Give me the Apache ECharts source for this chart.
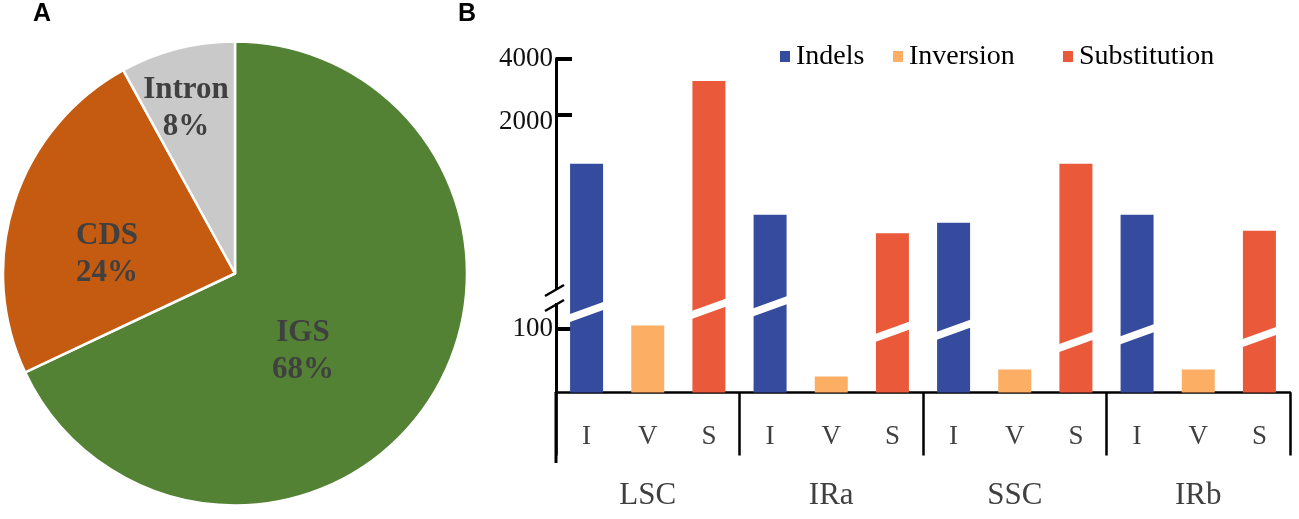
<!DOCTYPE html>
<html><head><meta charset="utf-8">
<script src="https://cdn.jsdelivr.net/npm/echarts@6/dist/echarts.min.js"></script>
<style>html,body{margin:0;padding:0;background:#fff}#c{width:1299px;height:519px}</style>
</head><body><div id="c"></div>
<script>
// ---- data ----
const pieNames = ['IGS', 'CDS', 'Intron'];
const pieValues = [68, 24, 8];
const groups = ['LSC', 'IRa', 'SSC', 'IRb'];
const types = ['I', 'V', 'S'];
const seriesNames = ['Indels', 'Inversion', 'Substitution'];
const indels = [1100, 590, 535, 590];
const inversion = [105, 25, 36, 36];
const substitution = [3040, 470, 1100, 485];
const upperTickValues = [2000, 4000];
const lowerTickValues = [100];

// ---- decoration (style): level, in lower-axis units, of the white break stripe on tall bars ----
const breakIndels = [126, 135, 98, 91];
const breakSubst = [131, 95, 79, 87];
const pieLabelPos = [[303, 351], [107, 254], [186, 108]];
const legendX = [780, 893, 1063];

const pieColors = ['#548235', '#C55A11', '#C9C9C9'];
const barColors = {Indels: '#354C9E', Inversion: '#FBAE64', Substitution: '#EA5A3A'};

const cats = [];
groups.forEach(g => types.forEach(t => cats.push(g + '|' + t)));
function colData(values, typeIdx) {
  return cats.map((c, i) => (i % 3 === typeIdx ? values[Math.floor(i / 3)] : '-'));
}
const stripes = [];
groups.forEach((g, gi) => {
  stripes.push([gi * 3 + 0, breakIndels[gi]]);
  stripes.push([gi * 3 + 2, breakSubst[gi]]);
});

const serif = 'Liberation Serif';
const L = 556, R = 9;
const chart = echarts.init(document.getElementById('c'));
const barCommon = {type: 'bar', barWidth: 33, barGap: '-100%', clip: true};
const plain = v => String(Math.round(v));

const legendGraphics = [];
seriesNames.forEach((n, i) => {
  legendGraphics.push({type: 'rect', z: 100, shape: {x: legendX[i], y: 51, width: 10, height: 11}, style: {fill: barColors[n]}});
  legendGraphics.push({type: 'text', z: 100, x: legendX[i] + 16, y: 57,
    style: {text: n, font: '28px "Liberation Serif"', fill: '#000', verticalAlign: 'middle', align: 'left'}});
});

chart.setOption({
  animation: false,
  backgroundColor: '#fff',
  textStyle: {fontFamily: serif},
  legend: {show: false, data: seriesNames},
  grid: [
    {left: L, right: R, top: 58.5, height: 244.5},
    {left: L, right: R, top: 303, height: 89.5},
    {left: L, right: R, top: 303, height: 89.5}
  ],
  xAxis: [
    {gridIndex: 0, type: 'category', data: cats, show: false},
    {gridIndex: 1, type: 'category', data: cats,
     axisLine: {show: true, lineStyle: {color: '#000', width: 2.5}},
     axisTick: {show: false},
     axisLabel: {formatter: v => v.split('|')[1], fontSize: 27, fontFamily: serif, color: '#404040', margin: 31}},
    {gridIndex: 2, type: 'category', data: groups,
     axisLine: {show: false},
     axisTick: {show: true, length: 63, lineStyle: {color: '#000', width: 2.5}},
     axisLabel: {fontSize: 31, fontFamily: serif, color: '#404040', margin: 88}}
  ],
  yAxis: [
    {gridIndex: 0, type: 'log', min: 200, max: 4000,
     axisLine: {show: true, onZero: false, lineStyle: {color: '#000', width: 3}},
     axisTick: {show: true, inside: true, length: 16, lineStyle: {color: '#000', width: 4}, customValues: upperTickValues},
     axisLabel: {customValues: upperTickValues,
                 formatter: v => (Math.round(v) === 2000 ? '{lo|2000}' : plain(v)),
                 rich: {lo: {fontSize: 27, fontFamily: serif, color: '#111', padding: [14, 0, 0, 0]}},
                 fontSize: 27, fontFamily: serif, color: '#111', margin: 3},
     splitLine: {show: false}, minorTick: {show: false}},
    {gridIndex: 1, type: 'value', min: 0, max: 140,
     axisLine: {show: true, onZero: false, lineStyle: {color: '#000', width: 3}},
     axisTick: {show: true, inside: true, length: 16, lineStyle: {color: '#000', width: 4}, customValues: lowerTickValues},
     axisLabel: {customValues: lowerTickValues, formatter: plain, fontSize: 27, fontFamily: serif, color: '#111', margin: 3},
     splitLine: {show: false}},
    {gridIndex: 2, type: 'value', show: false}
  ],
  series: [
    Object.assign({}, barCommon, {name: 'Indels', xAxisIndex: 0, yAxisIndex: 0, data: colData(indels, 0), itemStyle: {color: barColors.Indels}}),
    Object.assign({}, barCommon, {name: 'Substitution', xAxisIndex: 0, yAxisIndex: 0, data: colData(substitution, 2), itemStyle: {color: barColors.Substitution}}),
    Object.assign({}, barCommon, {name: 'Indels', xAxisIndex: 1, yAxisIndex: 1, data: colData(indels, 0), itemStyle: {color: barColors.Indels}}),
    Object.assign({}, barCommon, {name: 'Inversion', xAxisIndex: 1, yAxisIndex: 1, data: colData(inversion, 1), itemStyle: {color: barColors.Inversion}}),
    Object.assign({}, barCommon, {name: 'Substitution', xAxisIndex: 1, yAxisIndex: 1, data: colData(substitution, 2), itemStyle: {color: barColors.Substitution}}),
    {type: 'custom', name: 'break', xAxisIndex: 1, yAxisIndex: 1, z: 5, silent: true, clip: false,
     data: stripes,
     renderItem(params, api) {
       const p = api.coord([api.value(0), api.value(1)]);
       const hw = 18, rise = 6.5, t = 4;
       return {type: 'polygon', shape: {points: [
         [p[0] - hw, p[1] + rise - t], [p[0] + hw, p[1] - rise - t],
         [p[0] + hw, p[1] - rise + t], [p[0] - hw, p[1] + rise + t]]},
         style: {fill: '#fff'}};
     }},
    {type: 'pie', center: [235, 273.5], radius: 232, startAngle: 90, clockwise: true,
     data: pieNames.map((n, i) => ({name: n, value: pieValues[i], itemStyle: {color: pieColors[i]}})),
     itemStyle: {borderColor: '#fff', borderWidth: 2.5},
     label: {show: true, position: 'inside', formatter: '{b}\n{c}%', fontSize: 31, fontWeight: 'bold',
             fontFamily: serif, color: '#404040', lineHeight: 37, textBorderWidth: 0},
     labelLine: {show: false},
     labelLayout: p => ({x: pieLabelPos[p.dataIndex][0], y: pieLabelPos[p.dataIndex][1], align: 'center', verticalAlign: 'middle'}),
     emphasis: {disabled: true}}
  ],
  graphic: [
    {type: 'text', left: 33, top: 2, z: 100, style: {text: 'A', font: 'bold 25px "Liberation Sans"', fill: '#000'}},
    {type: 'text', left: 458, top: 2, z: 100, style: {text: 'B', font: 'bold 25px "Liberation Sans"', fill: '#000'}},
    {type: 'rect', z: 100, shape: {x: 551, y: 290, width: 10, height: 13}, style: {fill: '#fff'}},
    {type: 'line', z: 101, shape: {x1: 545, y1: 296, x2: 564, y2: 285}, style: {stroke: '#000', lineWidth: 2.5}},
    {type: 'line', z: 101, shape: {x1: 545, y1: 311, x2: 564, y2: 300}, style: {stroke: '#000', lineWidth: 2.5}},
    {type: 'line', z: 101, shape: {x1: 556, y1: 392, x2: 556, y2: 463}, style: {stroke: '#000', lineWidth: 3}}
  ].concat(legendGraphics)
});
</script></body></html>
